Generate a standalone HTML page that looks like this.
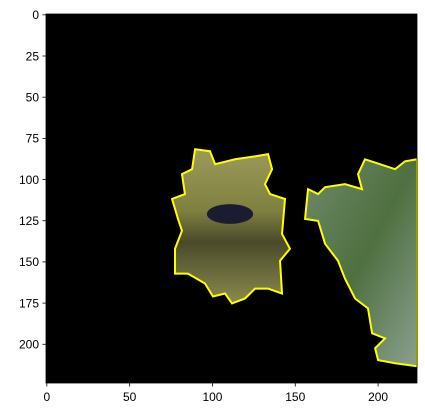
<!DOCTYPE html>
<html><head><meta charset="utf-8"><style>
body{margin:0;background:#fff;}
svg{display:block;font-family:"Liberation Sans","DejaVu Sans",sans-serif;}
</style></head><body>
<svg id="chart" width="425" height="417" viewBox="0 0 425 417">
<defs>
<linearGradient id="gl" x1="0" y1="0" x2="0" y2="1">
<stop offset="0" stop-color="#9c9a5a"/><stop offset="0.4" stop-color="#7f8040"/><stop offset="0.6" stop-color="#4a4a2a"/><stop offset="1" stop-color="#8a8a50"/></linearGradient>
<linearGradient id="gr" x1="0" y1="0" x2="1" y2="1">
<stop offset="0" stop-color="#6f8a6a"/><stop offset="0.5" stop-color="#4f7040"/><stop offset="1" stop-color="#8aa090"/></linearGradient>
</defs>
<g id="plot"></g>
</svg>
<script>
const leftBlob=[[89.5,81.6],[98.5,82.8],[101.6,90.7],[113.6,87.7],[125.7,85.9],[133.6,84.6],[136,93.7],[131.7,102.8],[134.8,108.8],[143.8,111.8],[142,133],[146.8,142],[140.8,149.3],[142,169.2],[133.6,166.2],[125.7,166.2],[119.7,172.2],[111.8,175.2],[107.6,169.2],[100.3,171],[95.5,163.1],[85.2,157.1],[77.4,157.1],[77.4,142],[81.6,131.1],[79.2,123.9],[75.6,111.8],[83.4,108.8],[81.6,96.7],[87.7,93.7]];
const rightBlob=[[223.5,87.7],[216.3,88.9],[210.3,93.7],[201.2,90.7],[192.1,87.7],[187.9,96.7],[190.3,105.8],[180,102.8],[168,104.6],[163.8,108.8],[157.7,105.8],[155.9,123.9],[163.8,125.1],[168,139],[175.8,149.3],[180,160.1],[186.1,172.2],[193.9,178.2],[196.4,193.3],[204.2,196.4],[198.2,202.4],[200,209.6],[210.3,211.5],[223.5,213.3]];
const bird=[110.6,120.9,14,6];
const xTicks=[0,50,100,150,200];
const yTicks=[0,25,50,75,100,125,150,175,200];
const L=46,T=14,W=371,H=369,N=224;
const sx=v=>L+(v+0.5)*W/N, sy=v=>T+(v+0.5)*H/N;
const NS="http://www.w3.org/2000/svg";
const g=document.getElementById('plot');
function mk(t,a){const e=document.createElementNS(NS,t);for(const k in a)e.setAttribute(k,a[k]);g.appendChild(e);return e;}
let e=mk('rect',{x:L,y:T,width:W,height:H,fill:'#000'});


e=mk('polygon',{points:leftBlob.map(p=>sx(p[0])+','+sy(p[1])).join(' '),fill:'url(#gl)',stroke:'#ffff00','stroke-width':2});


e=mk('polygon',{points:rightBlob.map(p=>sx(p[0])+','+sy(p[1])).join(' '),fill:'url(#gr)',stroke:'#ffff00','stroke-width':2});


e=mk('ellipse',{cx:sx(bird[0]),cy:sy(bird[1]),rx:bird[2]*W/N,ry:bird[3]*H/N,fill:'#1c1c30'});


e=mk('rect',{x:L,y:T,width:W,height:H,fill:'none',stroke:'#000','stroke-width':0.8});


xTicks.forEach(v=>{
 const x=sx(v);
 let t=mk('line',{x1:x,x2:x,y1:T+H,y2:T+H+3.5,stroke:'#000','stroke-width':0.8});
 
 
 let l=mk('text',{x:x,y:T+H+18,'text-anchor':'middle','font-size':12,fill:'#000'});
 l.textContent=v;
 
 
});
yTicks.forEach(v=>{
 const y=sy(v);
 let t=mk('line',{x1:L-3.5,x2:L,y1:y,y2:y,stroke:'#000','stroke-width':0.8});
 
 
 let l=mk('text',{x:L-7,y:y+4.3,'text-anchor':'end','font-size':12,fill:'#000'});
 l.textContent=v;
 
 
});
</script>
</body></html>
